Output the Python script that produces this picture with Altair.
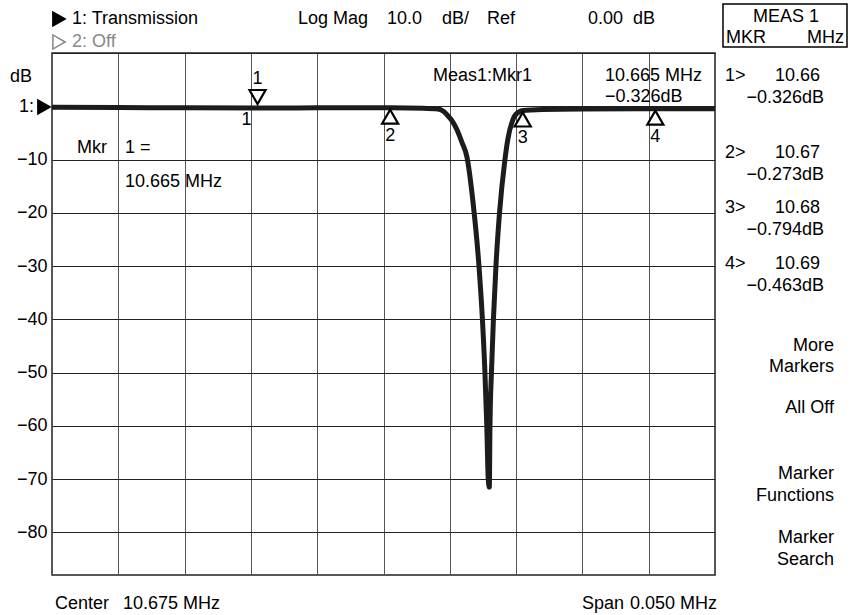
import altair as alt
import pandas as pd

# ---- data ----
freq = [10.65000, 10.65500, 10.66000, 10.66550, 10.67000, 10.67550, 10.67800,
        10.67911, 10.67949, 10.67979, 10.68016, 10.68054, 10.68092, 10.68130,
        10.68175, 10.68220, 10.68246, 10.68265, 10.68279, 10.68290, 10.68298,
        10.68303, 10.68314, 10.68329, 10.68348, 10.68375, 10.68416, 10.68439,
        10.68469, 10.68499, 10.68552, 10.68700, 10.69000, 10.69550, 10.70000]
db = [-0.20, -0.24, -0.30, -0.326, -0.30, -0.273, -0.35,
      -0.50, -0.90, -1.6, -2.7, -4.4, -6.8, -9.6,
      -18.0, -30.0, -40.0, -50.0, -60.0, -70.0, -71.5,
      -60.0, -50.0, -40.0, -30.0, -20.0, -10.0, -6.0,
      -3.0, -1.5, -0.794, -0.60, -0.50, -0.463, -0.45]

mkr_id = ["1", "2", "3", "4"]
mkr_freq = [10.6655, 10.6755, 10.6855, 10.6955]
mkr_db = [-0.326, -0.273, -0.794, -0.463]
mkr_val = ["10.66", "10.67", "10.68", "10.69"]
mkr_db_txt = ["\u22120.326dB", "\u22120.273dB", "\u22120.794dB", "\u22120.463dB"]

y_ticks = [10, 0, -10, -20, -30, -40, -50, -60, -70, -80]
x_ticks = [10.650, 10.655, 10.660, 10.665, 10.670, 10.675, 10.680, 10.685,
           10.690, 10.695, 10.700]

menu_items = ["More", "Markers", "All Off", "Marker", "Functions", "Marker", "Search"]

FONT = "Liberation Sans"
OX, OY = 52, 53  # plot origin on page
W, H = 663, 522

trace = pd.DataFrame({"f": freq, "db": db})
markers = pd.DataFrame({"id": mkr_id, "f": mkr_freq, "db": mkr_db})

xs = alt.Scale(domain=[10.65, 10.70], nice=False, zero=False)
ys = alt.Scale(domain=[-88, 10], nice=False, zero=False)

xenc = alt.X("f:Q", scale=xs,
             axis=alt.Axis(values=x_ticks, grid=True, labels=False, ticks=False,
                           domain=False, title=None, gridColor="#555",
                           gridWidth=1, gridOpacity=1))
yenc = alt.Y("db:Q", scale=ys,
             axis=alt.Axis(values=y_ticks, grid=True, ticks=False, domain=False,
                           title=None, gridColor="#222", gridWidth=1, gridOpacity=1,
                           labelExpr="datum.value < 0 ? '\u2212' + format(abs(datum.value), 'd') : ''",
                           labelFontSize=18, labelColor="black", labelPadding=5,
                           labelFont=FONT))
xenc2 = alt.X("f:Q", scale=xs)
yenc2 = alt.Y("db:Q", scale=ys)

line = alt.Chart(trace).mark_line(
    color="#1c1c1c", strokeWidth=5, interpolate="monotone", strokeJoin="round"
).encode(x=xenc, y=yenc)

m1 = alt.Chart(markers).transform_filter("datum.id == '1'")
m234 = alt.Chart(markers).transform_filter("datum.id != '1'")

m1_tri = m1.mark_point(shape="triangle-down", size=260, filled=True, fill="white",
                       stroke="black", strokeWidth=2.2, opacity=1, yOffset=-11
                       ).encode(x=xenc2, y=yenc2)
m1_top = m1.mark_text(font=FONT, fontSize=18, yOffset=-29, color="black"
                      ).encode(x=xenc2, y=yenc2, text="id:N")
m1_bot = m1.mark_text(font=FONT, fontSize=18, yOffset=12, xOffset=-11, color="black"
                      ).encode(x=xenc2, y=yenc2, text="id:N")
m_tri = m234.mark_point(shape="triangle-up", size=260, filled=True, fill="white",
                        stroke="black", strokeWidth=2.2, opacity=1, yOffset=9
                        ).encode(x=xenc2, y=yenc2)
m_lab = m234.mark_text(font=FONT, fontSize=18, yOffset=28, color="black"
                       ).encode(x=xenc2, y=yenc2, text="id:N")


def txt(s, x, y, align="left", color="black", size=18):
    return alt.Chart(pd.DataFrame({"t": [s]})).mark_text(
        font=FONT, fontSize=size, align=align, baseline="middle", color=color
    ).encode(x=alt.value(x - OX), y=alt.value(y - OY), text="t:N")


def tri(shape, x, y, filled=True, color="black"):
    return alt.Chart(pd.DataFrame({"t": [0]})).mark_point(
        shape=shape, size=200, filled=filled,
        fill=color if filled else "white", stroke=color, strokeWidth=1.5, opacity=1
    ).encode(x=alt.value(x - OX), y=alt.value(y - OY))


layers = [line, m1_tri, m1_top, m1_bot, m_tri, m_lab]

# header
layers += [
    tri("triangle-right", 59, 19),
    txt("1: Transmission", 72, 19),
    tri("triangle-right", 59, 42, filled=False, color="#888"),
    txt("2: Off", 72, 42, color="#888"),
    txt("Log Mag", 298, 19),
    txt("10.0", 387, 19),
    txt("dB/", 442, 19),
    txt("Ref", 487, 19),
    txt("0.00", 588, 19),
    txt("dB", 633, 19),
]
# MEAS box
box = alt.Chart(pd.DataFrame({"t": [0]})).mark_rect(
    fill="white", stroke="black", strokeWidth=1.5
).encode(x=alt.value(723 - OX), x2=alt.value(847 - OX),
         y=alt.value(4 - OY), y2=alt.value(47 - OY))
layers += [box, txt("MEAS 1", 786, 17, align="center"),
           txt("MKR", 726, 38), txt("MHz", 844, 38, align="right")]

# left axis extras
layers += [txt("dB", 10, 77), txt("1:", 34, 107, align="right"),
           tri("triangle-right", 44, 107)]

# in-plot annotations
layers += [
    txt("Meas1:Mkr1", 433, 76),
    txt("10.665 MHz", 605, 76),
    txt("\u22120.326dB", 605, 97),
    txt("Mkr", 77, 148),
    txt("1 =", 125, 148),
    txt("10.665 MHz", 125, 182),
]

# right marker table
row_y = [76, 153, 208, 264]
for i in range(4):
    y = row_y[i]
    layers += [txt(mkr_id[i] + ">", 725, y),
               txt(mkr_val[i], 820, y, align="right"),
               txt(mkr_db_txt[i], 824, y + 22, align="right")]

menu_y = [346, 367, 408, 474, 496, 538, 560]
for s, y in zip(menu_items, menu_y):
    layers += [txt(s, 834, y, align="right")]

# footer
layers += [txt("Center", 55, 604), txt("10.675 MHz", 123, 604),
           txt("Span", 582, 604), txt("0.050 MHz", 717, 604, align="right")]

chart = alt.layer(*layers).properties(
    width=W, height=H,
    autosize=alt.AutoSizeParams(type="none"),
    padding={"left": OX, "top": OY, "right": 852 - OX - W, "bottom": 615 - OY - H},
    background="white",
).configure_view(stroke="#222", strokeWidth=1.5).configure_text(font=FONT)

chart.save("out.html", embed_options={"renderer": "svg", "actions": False})
